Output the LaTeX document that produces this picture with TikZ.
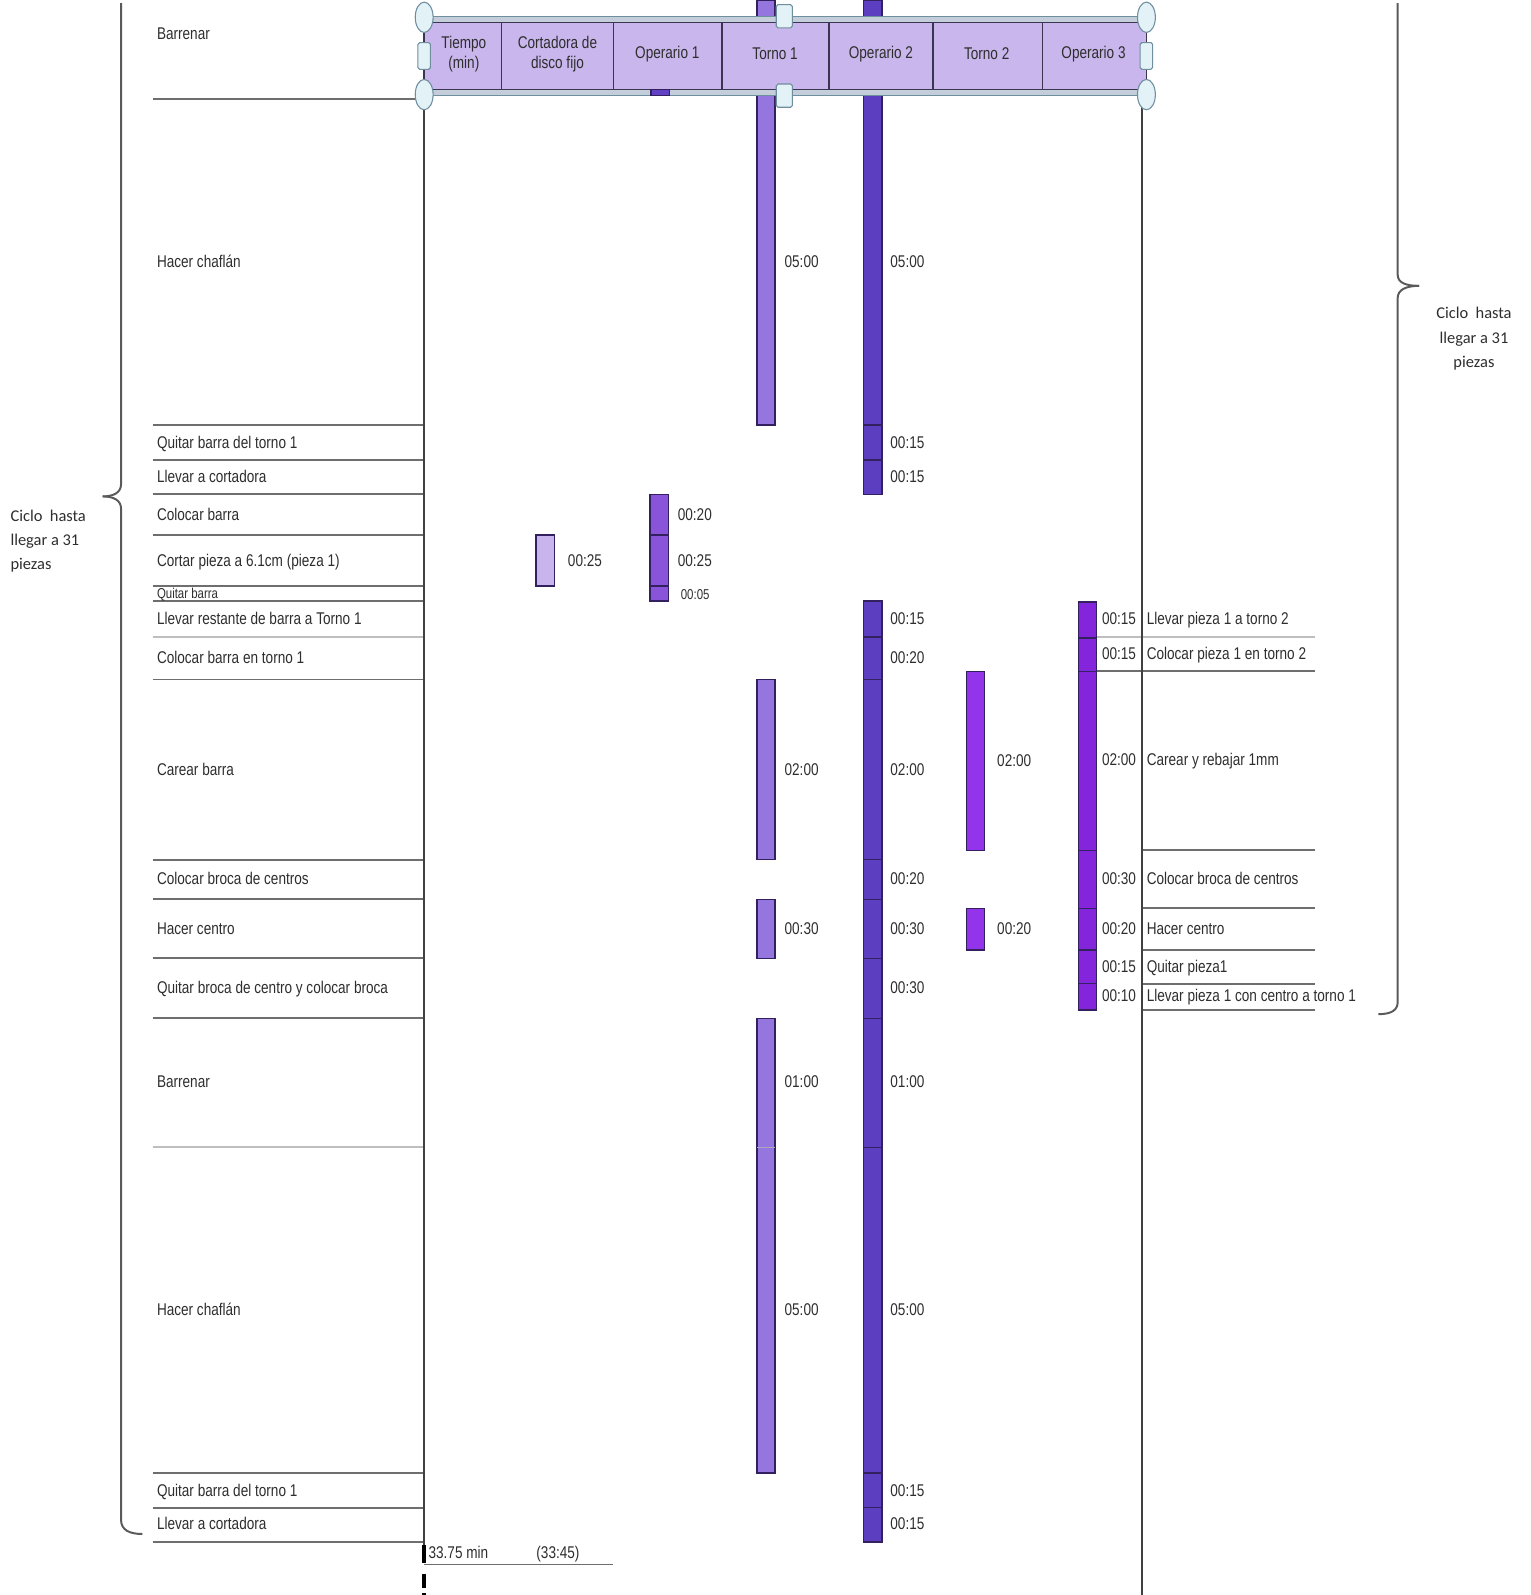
\documentclass[tikz,border=0pt]{standalone}
\usepackage{fontspec}
\setmainfont[FakeStretch=0.8]{Liberation Sans}
\newfontfamily\calib{Carlito}
\usetikzlibrary{shapes.geometric}
\definecolor{rowline}{HTML}{6E6E6E}
\definecolor{hdrfill}{HTML}{C9B6EC}
\definecolor{hdrline}{HTML}{3A3550}
\definecolor{handlefill}{HTML}{E2F2F6}
\definecolor{handleline}{HTML}{6F8E9E}
\definecolor{bandfill}{HTML}{C3CEDA}
\definecolor{cCort}{HTML}{C9B4EE}
\definecolor{cOpA}{HTML}{8954DA}
\definecolor{cTA}{HTML}{9575DE}
\definecolor{cOpB}{HTML}{5B3FC0}
\definecolor{cTB}{HTML}{9434EA}
\definecolor{cOpC}{HTML}{8425DB}
\definecolor{barline}{HTML}{33205E}
\definecolor{txt}{HTML}{2E2E2E}
\definecolor{bracec}{HTML}{5A5A5A}
\begin{document}
\begin{tikzpicture}[x=0.02cm,y=-0.02cm,
  lbl/.style={anchor=base west,inner sep=0pt,font=\fontsize{9.5}{11}\selectfont,text=txt},
  smalllbl/.style={anchor=base west,inner sep=0pt,font=\fontsize{8}{9}\selectfont,text=txt},
  hdr/.style={align=center,inner sep=0pt,font=\fontsize{9.5}{11}\selectfont,text=txt},
  rowln/.style={draw=rowline,line width=1.1pt},
  lightrow/.style={draw=rowline!45,line width=1.1pt},
  vline/.style={draw=black!75,line width=1pt},
  barseg/.style={draw=barline,line width=0.8pt},
  bracestyle/.style={draw=bracec,line width=1.1pt},
  cyc/.style={align=left,inner sep=0pt,font=\calib\fontsize{9.2}{13.6}\selectfont,text=txt},
  cycc/.style={align=center,inner sep=0pt,font=\calib\fontsize{9.2}{13.6}\selectfont,text=txt},
  handleo/.style={ellipse,draw=handleline,fill=handlefill,line width=0.6pt,minimum width=10,minimum height=17,inner sep=0pt},
  handler/.style={rectangle,rounded corners=1pt,draw=handleline,fill=handlefill,line width=0.6pt,minimum width=7,minimum height=15,inner sep=0pt}
]
\useasboundingbox (0,0) rectangle (1505,1568);

% ---------- braces ----------
\draw[bracestyle] (119,3) -- (119,476) .. controls (119,484) and (112,488) .. (101,488);
\draw[bracestyle] (101,488) .. controls (112,488) and (119,492) .. (119,500) -- (119,1494) .. controls (119,1504) and (127,1508) .. (140,1508);
\draw[bracestyle] (1374,3) -- (1374,270) .. controls (1374,278) and (1382,281) .. (1395,281);
\draw[bracestyle] (1395,281) .. controls (1382,281) and (1374,285) .. (1374,293) -- (1374,985) .. controls (1374,993) and (1368,997) .. (1355,997);
\node[cyc,anchor=west] (cycL) at (10,532) {Ciclo\ \ hasta\\llegar a 31\\piezas};
\node[cycc] (cycR) at (1449,333) {Ciclo\ \ hasta\\llegar a 31\\piezas};

% ---------- left row lines ----------
\foreach \y in {97,418,452,486,526,576,591,668,845,884,942,1001,1448,1482,1516}
  \draw[rowln] (150,\y) -- (417,\y);
\foreach \y in {626,1128}
  \draw[lightrow] (150,\y) -- (417,\y);

% ---------- right row lines ----------
\draw[lightrow] (1078,626) -- (1293,626);
\draw[rowln] (1078,660) -- (1293,660);
\foreach \y in {836,893,934,967,993}
  \draw[rowln] (1122,\y) -- (1293,\y);

% ---------- verticals ----------
\draw[vline] (417,90) -- (417,1537);
\draw[draw=black,line width=2pt] (417,1519) -- (417,1537);
\draw[draw=black,line width=2pt] (417,1547) -- (417,1561);
\draw[draw=black,line width=2pt] (417,1566) -- (417,1568);
\draw[vline] (1123,90) -- (1123,1568);

% ---------- left labels ----------
\foreach \y/\t [count=\i] in {33/Barrenar,257/Hacer chaflán,435/Quitar barra del torno 1,468/Llevar a cortadora,506/Colocar barra,551/Cortar pieza a 6.1cm (pieza 1),608/Llevar restante de barra a Torno 1,646/Colocar barra en torno 1,756/Carear barra,864/Colocar broca de centros,913/Hacer centro,971/Quitar broca de centro y colocar broca,1063/Barrenar,1287/Hacer chaflán,1465/Quitar barra del torno 1,1498/Llevar a cortadora}
  \node[lbl] (act\i) at (154,\y+6) {\t};
\node[smalllbl] (actq) at (154,588) {Quitar barra};

% ---------- bars ----------
% Cortadora
\draw[barseg,fill=cCort] (527,526) rectangle (545,576);
% Operario 1
\foreach \a/\b in {486/526,526/576,576/591}
  \draw[barseg,fill=cOpA] (639,\a) rectangle (657,\b);
% Torno 1
\draw[barseg,fill=cTA] (744,0) rectangle (762,418);
\draw[barseg,fill=cTA] (744,668) rectangle (762,845);
\draw[barseg,fill=cTA] (744,884) rectangle (762,942);
\draw[barseg,fill=cTA] (744,1001) rectangle (762,1448);
\draw[draw=barline!40,line width=0.8pt] (744,1128) -- (762,1128);
% Operario 2
\draw[barseg,fill=cOpB] (849,0) rectangle (867,418);
\foreach \a/\b in {418/452,452/486,591/626,626/668,668/845,845/884,884/942,942/1001,1001/1128,1128/1448,1448/1482,1482/1516}
  \draw[barseg,fill=cOpB] (849,\a) rectangle (867,\b);
% Torno 2
\draw[barseg,fill=cTB] (950,660) rectangle (968,836);
\draw[barseg,fill=cTB] (950,893) rectangle (968,934);
% Operario 3
\foreach \a/\b in {592/627,627/660,660/836,836/893,893/934,934/967,967/993}
  \draw[barseg,fill=cOpC] (1060,\a) rectangle (1078,\b);

% ---------- time labels ----------
\node[lbl] (tc1) at (558,557) {00:25};
\foreach \y/\t [count=\i] in {506/00:20,551/00:25}
  \node[lbl] (to1\i) at (666,\y+6) {\t};
\node[smalllbl] (to1s) at (669,589) {00:05};
\foreach \y/\t [count=\i] in {257/05:00,756/02:00,913/00:30,1063/01:00,1287/05:00}
  \node[lbl] (tt1\i) at (771,\y+6) {\t};
\foreach \y/\t [count=\i] in {257/05:00,435/00:15,468/00:15,608/00:15,646/00:20,756/02:00,864/00:20,913/00:30,971/00:30,1063/01:00,1287/05:00,1465/00:15,1498/00:15}
  \node[lbl] (to2\i) at (875,\y+6) {\t};
\foreach \y/\t [count=\i] in {748/02:00,913/00:20}
  \node[lbl] (tt2\i) at (980,\y+6) {\t};
\foreach \y/\t [count=\i] in {608/00:15,642/00:15,747/02:00,864/00:30,913/00:20,950/00:15,979/00:10}
  \node[lbl] (to3\i) at (1083,\y+6) {\t};
\foreach \y/\t [count=\i] in {608/Llevar pieza 1 a torno 2,642/Colocar pieza 1 en torno 2,747/Carear y rebajar 1mm,864/Colocar broca de centros,913/Hacer centro,950/Quitar pieza1,979/Llevar pieza 1 con centro a torno 1}
  \node[lbl] (ract\i) at (1127,\y+6) {\t};

% ---------- header ----------
\draw[draw=handleline,line width=0.6pt,fill=bandfill] (417,16) rectangle (1127,23);
\draw[draw=handleline,line width=0.6pt,fill=bandfill] (417,87) rectangle (1127,94);
\draw[draw=hdrline,line width=0.9pt,fill=hdrfill] (417,22) rectangle (1127,88);
\foreach \x in {493,603,710,815,917,1025}
  \draw[draw=hdrline,line width=0.9pt] (\x,22) -- (\x,88);
\node[hdr] (hT) at (456,53) {Tiempo\\(min)};
\node[hdr] (hC) at (548,53) {Cortadora de\\disco fijo};
\node[hdr] (hO1) at (656,53) {Operario 1};
\node[hdr] (hT1) at (762,53) {Torno 1};
\node[hdr] (hO2) at (866,53) {Operario 2};
\node[hdr] (hT2) at (970,53) {Torno 2};
\node[hdr] (hO3) at (1075,53) {Operario 3};
\fill[draw=barline,line width=0.6pt,fill=cOpB!85!cOpA] (640,88) rectangle (658,94);
% handles
\node[handleo] (hdl1) at (417,17) {};
\node[handleo] (hdl2) at (1127,17) {};
\node[handleo] (hdl3) at (417,93) {};
\node[handleo] (hdl4) at (1127,93) {};
\node[handler] (hdl5) at (417,55) {};
\node[handler] (hdl6) at (1127,55) {};
\node[handler,minimum width=9,minimum height=13] (hdl7) at (771,16) {};
\node[handler,minimum width=9,minimum height=13] (hdl8) at (771,94) {};

% ---------- bottom total ----------
\node[lbl] (tot1) at (421,1532) {33.75 min};
\node[lbl] (tot2) at (527,1532) {(33:45)};
\draw[rowln] (417,1538) -- (603,1538);
\end{tikzpicture}
\end{document}
